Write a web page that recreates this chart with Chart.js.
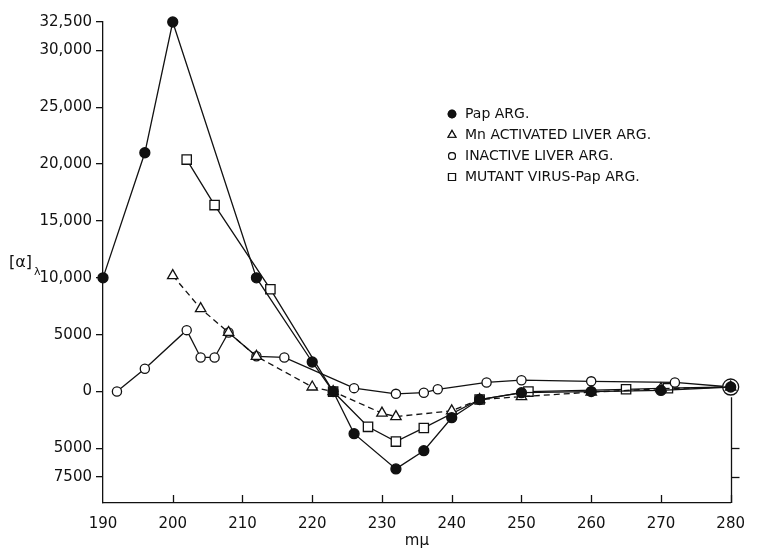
<!DOCTYPE html>
<html><head><meta charset="utf-8">
<script src="https://cdn.jsdelivr.net/npm/chart.js@4.4.1/dist/chart.umd.min.js"></script>
<style>html,body{margin:0;padding:0;background:#fff}#wrap{width:757px;height:550px;position:relative}</style>
</head><body><div id="wrap"><canvas id="c" width="757" height="550"></canvas></div>
<script>
// ---- data (wavelength in mμ, specific rotation [α]λ) ----
const papWavelength      = [190, 196, 200, 212, 220, 223, 226, 232, 236, 240, 244, 250, 260, 270, 280];
const papRotation        = [10000, 21000, 32500, 10000, 2600, 0, -3700, -6800, -5200, -2300, -700, -100, 0, 100, 400];

const mnLiverWavelength  = [200, 204, 208, 212, 220, 223, 230, 232, 240, 244, 250, 260, 270, 280];
const mnLiverRotation    = [10200, 7300, 5200, 3100, 400, 0, -1900, -2200, -1700, -700, -450, -50, 250, 400];

const inactiveWavelength = [192, 196, 202, 204, 206, 208, 212, 216, 226, 232, 236, 238, 245, 250, 260, 272, 280, 283];
const inactiveRotation   = [0, 2000, 5400, 3000, 3000, 5200, 3100, 3000, 300, -200, -100, 200, 800, 1000, 900, 800, 400, 300];

const mutantWavelength   = [202, 206, 214, 223, 228, 232, 236, 244, 251, 265, 271, 280];
const mutantRotation     = [20400, 16400, 9000, 0, -3100, -4400, -3200, -700, 0, 200, 300, 400];

const xTickValues = [190, 200, 210, 220, 230, 240, 250, 260, 270, 280];
const yTickValues = [-7500, -5000, 0, 5000, 10000, 15000, 20000, 25000, 30000, 32500];
const rightTickValues = [-5000, -7500];

const legendLabels = ['Pap ARG.', 'Mn ACTIVATED LIVER ARG.', 'INACTIVE LIVER ARG.', 'MUTANT VIRUS-Pap ARG.'];
const xTitle = 'mμ';

// ---- build ----
const pts = (xs, ys) => xs.map((x, i) => ({x: x, y: ys[i]}));
const INK = '#111';
const FONT = 'DejaVu Sans';
Chart.defaults.font.family = FONT;
Chart.defaults.color = INK;

const styles = [
  {pointStyle: 'circle',   fill: INK,    radius: 5,   dash: []},
  {pointStyle: 'triangle', fill: '#fff', radius: 6,   dash: [6, 4]},
  {pointStyle: 'circle',   fill: '#fff', radius: 4.6, dash: []},
  {pointStyle: 'rect',     fill: '#fff', radius: 6.6, dash: []}
];

const datasets = [
  {label: legendLabels[0], data: pts(papWavelength, papRotation)},
  {label: legendLabels[1], data: pts(mnLiverWavelength, mnLiverRotation)},
  {label: legendLabels[2], data: pts(inactiveWavelength, inactiveRotation)},
  {label: legendLabels[3], data: pts(mutantWavelength, mutantRotation)}
].map((d, i) => Object.assign(d, {
  borderColor: INK,
  borderWidth: 1.3,
  borderDash: styles[i].dash,
  pointStyle: styles[i].pointStyle,
  pointRadius: i === 2 ? d.data.map(p => p.x === 280 ? 8 : styles[i].radius) : styles[i].radius,
  pointBackgroundColor: styles[i].fill,
  pointBorderColor: INK,
  pointBorderWidth: 1.3,
  tension: 0,
  clip: false,
  showLine: true
}));

function fmt(v) {
  const a = Math.abs(v);
  return a >= 10000 ? a.toLocaleString('en-US') : String(a);
}

const decor = {
  id: 'decor',
  afterDraw(chart) {
    const ctx = chart.ctx, xs = chart.scales.x, ys = chart.scales.y, ca = chart.chartArea;
    ctx.save();
    ctx.strokeStyle = INK; ctx.lineWidth = 1.3;
    // inner ticks on the bottom axis
    xTickValues.forEach(v => {
      if (v === 190) return;
      const px = Math.round(xs.getPixelForValue(v)) + 0.5;
      ctx.beginPath(); ctx.moveTo(px, ca.bottom); ctx.lineTo(px, ca.bottom - 8); ctx.stroke();
    });
    // partial right axis
    const rx = Math.round(xs.getPixelForValue(280)) + 0.5;
    ctx.beginPath(); ctx.moveTo(rx, ys.getPixelForValue(-500)); ctx.lineTo(rx, ca.bottom); ctx.stroke();
    rightTickValues.forEach(v => {
      const py = Math.round(ys.getPixelForValue(v)) + 0.5;
      ctx.beginPath(); ctx.moveTo(rx, py); ctx.lineTo(rx + 8, py); ctx.stroke();
    });
    // y title [α]λ
    ctx.fillStyle = INK;
    ctx.textBaseline = 'middle'; ctx.textAlign = 'left';
    ctx.font = '16px ' + FONT;
    ctx.fillText('[α]', 9, 263);
    ctx.font = '11px ' + FONT;
    ctx.fillText('λ', 34, 272);
    // legend
    const lx = 452, ly0 = 114, dy = 21;
    ctx.font = '14px ' + FONT;
    legendLabels.forEach((lab, i) => {
      const y = ly0 + i * dy;
      Chart.helpers.drawPoint(ctx, {pointStyle: styles[i].pointStyle, radius: styles[i].radius * 0.75, borderWidth: 1.2, rotation: 0}, lx, y);
      ctx.fillStyle = styles[i].fill; ctx.fill();
      ctx.strokeStyle = INK; ctx.lineWidth = 1.2; ctx.stroke();
      ctx.fillStyle = INK;
      ctx.fillText(lab, lx + 13, y);
    });
    ctx.restore();
  }
};

new Chart(document.getElementById('c'), {
  type: 'scatter',
  data: {datasets: datasets},
  plugins: [decor],
  options: {
    responsive: false,
    devicePixelRatio: 1,
    animation: false,
    layout: {padding: {left: 0, right: 23, top: 22, bottom: 0}},
    plugins: {legend: {display: false}, tooltip: {enabled: false}},
    scales: {
      x: {
        type: 'linear', min: 190, max: 280,
        afterBuildTicks: s => { s.ticks = xTickValues.map(v => ({value: v})); },
        afterFit: s => { s.height = 47; },
        grid: {drawOnChartArea: false, drawTicks: false},
        border: {display: true, color: INK, width: 1.3},
        ticks: {padding: 12, font: {size: 15}, color: INK, maxRotation: 0, autoSkip: false},
        title: {display: true, text: xTitle, font: {size: 15}, color: INK, padding: {top: 0, bottom: 0}}
      },
      y: {
        type: 'linear', min: -9800, max: 32500,
        afterBuildTicks: s => { s.ticks = yTickValues.map(v => ({value: v})); },
        afterFit: s => { s.width = 103; },
        grid: {drawOnChartArea: false, drawTicks: true, tickLength: 7, color: INK, lineWidth: 1.3},
        border: {display: true, color: INK, width: 1.3},
        ticks: {padding: 4, font: {size: 15}, color: INK, autoSkip: false, callback: v => fmt(v)}
      }
    }
  }
});
</script></body></html>
